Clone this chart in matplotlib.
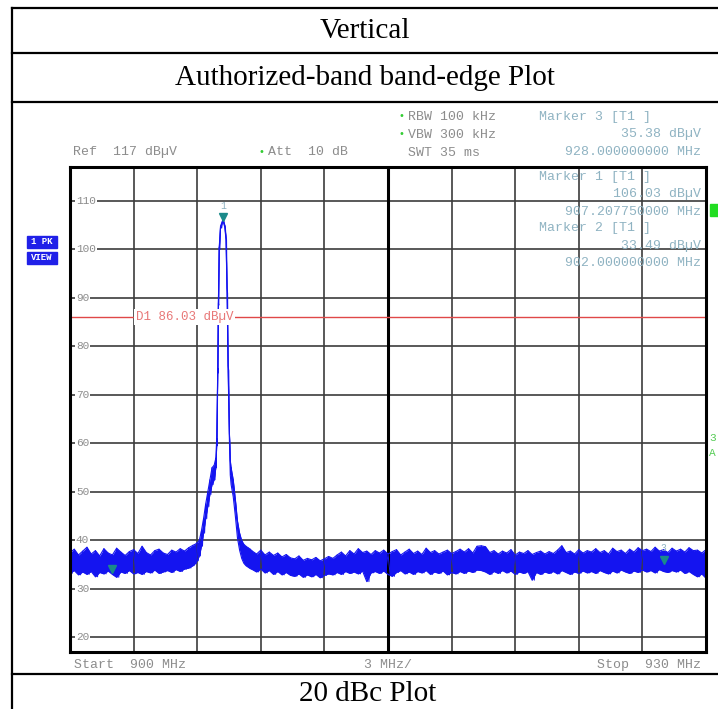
import matplotlib
matplotlib.use('Agg')
import matplotlib.pyplot as plt
import numpy as np
from matplotlib.lines import Line2D
from matplotlib.patches import Rectangle

W, H = 718, 709

# sweep settings
f_start, f_stop, f_div = 900.0, 930.0, 3.0
ref_lvl, bottom_lvl = 117.0, 17.0
grid_levels = [110, 100, 90, 80, 70, 60, 50, 40, 30, 20]
d1_level = 86.03

# markers: (freq MHz, level dBuV)
mk_freq = [907.20775, 902.0, 928.0]
mk_level = [106.03, 33.49, 35.38]
mk_names = ['1', '2', '3']

# trace: upper / lower edge of the noisy trace (dBuV)
left_f = np.arange(900.0, 905.81, 0.2)
left_hi = [37.5, 38.2, 37.0, 37.8, 38.6, 37.2, 37.9, 36.8, 38.3, 37.4,
           37.0, 38.4, 37.6, 36.9, 37.7, 38.1, 37.3, 38.8, 37.5, 37.0,
           37.9, 38.2, 37.4, 37.1, 38.0, 37.6, 38.3, 37.8, 38.5, 39.0]
left_lo = [33.2, 33.8, 32.9, 33.5, 33.0, 33.6, 32.5, 33.4, 33.1, 33.7,
           33.0, 32.4, 33.5, 33.2, 33.8, 33.1, 33.4, 33.0, 33.6, 33.3,
           33.9, 33.2, 33.5, 33.8, 33.4, 34.0, 33.6, 34.1, 34.3, 34.8]

peak_f = [905.9, 906.0, 906.1, 906.2, 906.3, 906.4, 906.5, 906.6, 906.7, 906.8,
          906.88, 906.92, 906.97, 907.0, 907.04, 907.1, 907.21, 907.3, 907.36, 907.41,
          907.46, 907.52, 907.56, 907.6, 907.7, 907.8, 907.9, 908.0, 908.1, 908.2,
          908.3, 908.4, 908.5]
peak_hi = [39.2, 39.5, 40.0, 42.0, 44.5, 47.5, 50.0, 52.5, 55.0, 55.5,
           57.0, 61.0, 75.5, 89.0, 100.5, 104.8, 106.1, 105.0, 102.5, 92.0,
           76.0, 62.0, 56.5, 55.0, 52.5, 48.5, 44.0, 41.5, 40.0, 39.2,
           38.8, 38.5, 38.2]
peak_lo = [35.2, 35.8, 36.8, 38.8, 41.5, 44.5, 47.0, 49.5, 51.5, 52.5,
           55.0, 59.5, 74.5, 88.5, 100.0, 104.4, 106.0, 104.6, 102.0, 91.0,
           75.0, 60.5, 53.5, 51.5, 49.0, 45.0, 40.5, 38.0, 36.3, 35.3,
           34.8, 34.5, 34.2]

right_f = np.arange(908.6, 930.01, 0.2)
right_hi = [37.8, 37.2, 38.0, 37.0, 37.6, 36.9, 37.4, 36.6, 37.1, 36.4,
            36.2, 36.8, 35.9, 36.3, 36.0, 36.5, 35.8, 36.2, 36.7, 36.3,
            37.0, 37.6, 36.8, 37.9, 37.2, 38.3, 37.5, 37.8, 37.1, 37.9,
            37.4, 38.0, 37.2, 37.7, 38.1, 37.0, 37.6, 38.2, 37.3, 37.8,
            37.1, 38.4, 37.5, 37.9, 37.2, 37.6, 38.0, 37.3, 37.7, 38.2,
            37.6, 38.3, 37.4, 38.8, 38.9, 38.7, 37.5, 37.9, 37.2, 37.8,
            37.4, 38.1, 37.0, 37.6, 37.3, 37.9, 37.1, 37.5, 37.8, 37.2,
            37.7, 37.3, 38.0, 38.9, 37.5, 37.8, 37.2, 38.1, 37.4, 37.9,
            37.6, 38.3, 37.5, 37.9, 37.2, 38.4, 37.7, 38.0, 37.3, 38.2,
            37.6, 38.5, 37.9, 38.2, 37.7, 38.6, 37.8, 38.1, 37.5, 38.4,
            37.8, 38.2, 37.6, 38.5, 37.9, 38.0, 37.4, 38.1]
right_lo = [34.0, 33.5, 34.1, 33.3, 33.8, 33.0, 33.6, 32.9, 33.4, 32.8,
            32.6, 33.1, 32.4, 32.9, 32.5, 33.0, 32.3, 32.8, 33.1, 32.9,
            33.4, 33.0, 33.6, 33.2, 33.5, 33.1, 33.7, 31.5, 33.3, 33.6,
            33.2, 33.7, 33.0, 32.6, 33.4, 33.8, 33.1, 33.5, 33.0, 33.6,
            33.3, 33.8, 33.0, 33.5, 33.2, 33.7, 32.9, 33.4, 33.1, 33.6,
            33.2, 33.7, 33.4, 33.9, 33.8, 33.5, 33.0, 33.6, 33.2, 33.8,
            33.3, 33.7, 33.0, 33.5, 33.2, 33.6, 31.8, 33.4, 33.0, 33.5,
            33.2, 33.6, 33.1, 33.8, 33.4, 33.0, 33.5, 33.2, 33.7, 33.3,
            33.6, 33.2, 33.8, 33.4, 33.1, 33.7, 33.3, 33.9, 33.5, 33.2,
            33.7, 33.4, 33.9, 33.5, 33.8, 33.3, 34.0, 33.6, 33.4, 33.8,
            33.5, 33.9, 33.2, 33.6, 33.0, 32.5, 33.1, 32.2]

freq = np.concatenate([left_f, peak_f, right_f])
hi = np.concatenate([left_hi, peak_hi, right_hi])
lo = np.concatenate([left_lo, peak_lo, right_lo])

# sweep the trace up and down between the edges so it looks like the dense analyzer trace
mid = (freq[:-1] + freq[1:]) / 2
zig_f = np.empty(2 * len(mid))
zig_v = np.empty(2 * len(mid))
zig_f[0::2] = freq[:-1]
zig_f[1::2] = mid
zig_v[0::2] = hi[:-1]
zig_v[1::2] = lo[:-1]

TRACE = '#1414f0'
MK = '#1a8a8a'
MKTXT = '#8fb3c2'
GRAY = '#8c8c8c'
MONO = 'Liberation Mono'
SERIF = 'Liberation Serif'


def fx(x):
    return x / W


def fy(y):
    return 1 - y / H


fig = plt.figure(figsize=(W / 100, H / 100), dpi=100)
fig.patch.set_facecolor('white')

# table frame around the screenshot
for yy in [8, 53, 102, 674]:
    fig.add_artist(Line2D([fx(12), fx(718)], [fy(yy), fy(yy)], color='black', lw=1.6))
fig.add_artist(Line2D([fx(12), fx(12)], [fy(8), fy(709)], color='black', lw=1.6))
fig.text(fx(365), fy(31), 'Vertical', family=SERIF, fontsize=21, ha='center', va='center')
fig.text(fx(365), fy(78), 'Authorized-band band-edge Plot', family=SERIF, fontsize=21,
         ha='center', va='center')
fig.text(fx(368), fy(694), '20 dBc Plot', family=SERIF, fontsize=21, ha='center', va='center')

# analyzer plot
ax = fig.add_axes([fx(70), fy(652), (706 - 70) / W, (652 - 167) / H])
ax.set_xlim(f_start, f_stop)
ax.set_ylim(bottom_lvl, ref_lvl)
ax.set_xticks(np.arange(f_start, f_stop + 0.1, f_div))
ax.set_yticks(grid_levels)
ax.grid(color='#3c3c3c', lw=1.2)
ax.tick_params(length=0, labelbottom=False, labelleft=False)
for s in ax.spines.values():
    s.set_linewidth(2.2)
ax.axvline((f_start + f_stop) / 2, color='black', lw=2.2)

for v in grid_levels:
    ax.text(900.28, v, str(v), family=MONO, fontsize=8, color=GRAY, ha='left', va='center',
            bbox=dict(facecolor='white', edgecolor='none', pad=0.6))

ax.axhline(d1_level, color='#e04848', lw=1.0)
ax.text(903.1, d1_level, 'D1 86.03 dBµV', family=MONO, fontsize=9, color='#e87878',
        ha='left', va='center', bbox=dict(facecolor='white', edgecolor='none', pad=1.5))

ax.fill_between(freq, lo, hi, color=TRACE, lw=0)
ax.plot(zig_f, zig_v, color=TRACE, lw=0.7)
ax.plot(freq, hi, color=TRACE, lw=0.8)
ax.plot(freq, lo, color=TRACE, lw=0.8)

for f, v, n in zip(mk_freq, mk_level, mk_names):
    ax.plot(f, v + 0.6, marker='v', ms=6, color=MK, mec=MK)
    if n != '2':
        ax.text(f, v + 3.0, n, family=MONO, fontsize=7, color=MKTXT, ha='center', va='center')

# header / marker read-outs
hdr = dict(family=MONO, fontsize=9.5, va='center')
fig.text(fx(73), fy(152), 'Ref  117 dBµV', color=GRAY, ha='left', **hdr)
fig.text(fx(268), fy(152), 'Att  10 dB', color=GRAY, ha='left', **hdr)
fig.text(fx(408), fy(117), 'RBW 100 kHz', color=GRAY, ha='left', **hdr)
fig.text(fx(408), fy(135), 'VBW 300 kHz', color=GRAY, ha='left', **hdr)
fig.text(fx(408), fy(153), 'SWT 35 ms', color=GRAY, ha='left', **hdr)
for xb, yb in [(261, 152), (401, 116), (401, 134)]:
    fig.text(fx(xb), fy(yb), '•', color='#33cc33', fontsize=7, ha='center', va='center')

readout = [('Marker 3 [T1 ]', '35.38 dBµV', '928.000000000 MHz', 117),
           ('Marker 1 [T1 ]', '106.03 dBµV', '907.207750000 MHz', 177),
           ('Marker 2 [T1 ]', '33.49 dBµV', '902.000000000 MHz', 228)]
for title, lvl, fr, y0 in readout:
    fig.text(fx(539), fy(y0), title, color=MKTXT, ha='left', **hdr)
    fig.text(fx(701), fy(y0 + 17.5), lvl, color=MKTXT, ha='right', **hdr)
    fig.text(fx(701), fy(y0 + 35), fr, color=MKTXT, ha='right', **hdr)

fig.text(fx(74), fy(665), 'Start  900 MHz', color=GRAY, ha='left', **hdr)
fig.text(fx(388), fy(665), '3 MHz/', color=GRAY, ha='center', **hdr)
fig.text(fx(701), fy(665), 'Stop  930 MHz', color=GRAY, ha='right', **hdr)

# trace info boxes on the left
for y0, lab in [(236, '1 PK'), (252, 'VIEW')]:
    fig.add_artist(Rectangle((fx(27), fy(y0 + 12)), 30 / W, 12 / H, color='#2020e8',
                             transform=fig.transFigure))
    fig.text(fx(42), fy(y0 + 6), lab, family=MONO, fontsize=6.5, weight='bold', color='white',
             ha='center', va='center')

# green flags at the right edge
fig.add_artist(Rectangle((fx(710), fy(216)), 8 / W, 12 / H, color='#22dd22',
                         transform=fig.transFigure))
fig.text(fx(709), fy(438), '3', family=MONO, fontsize=8, color='#55cc55', ha='left', va='center')
fig.text(fx(709), fy(453), 'A', family=MONO, fontsize=8, color='#55cc55', ha='left', va='center')

fig.savefig('out.png', dpi=100, facecolor='white')
